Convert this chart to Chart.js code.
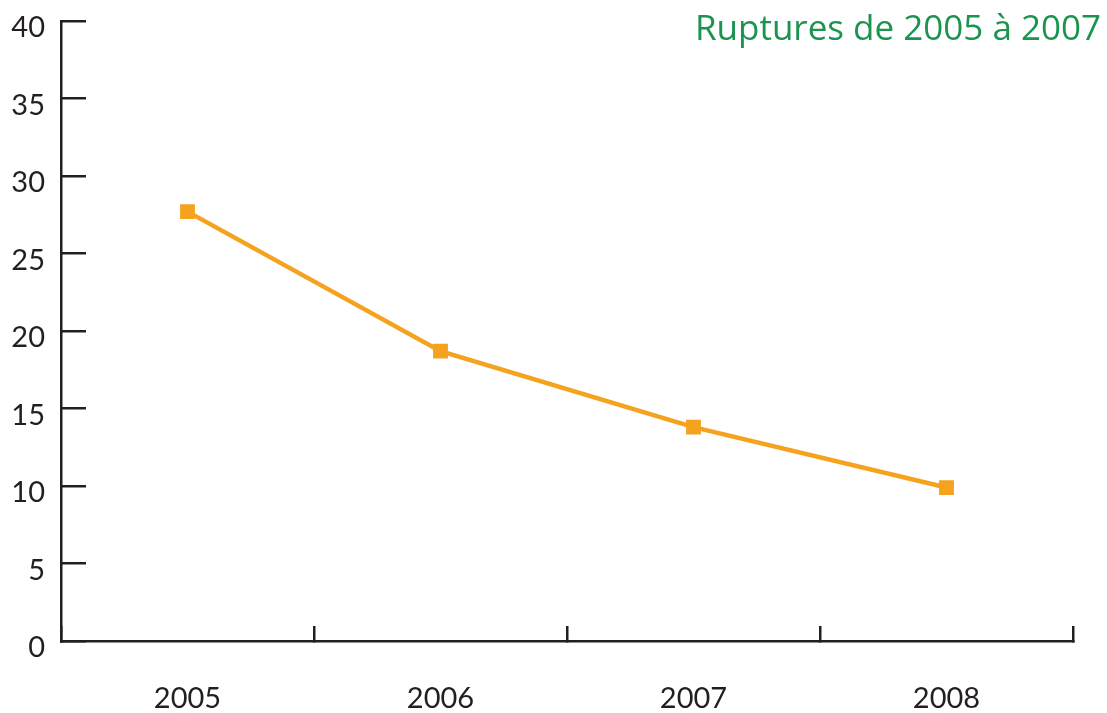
<!DOCTYPE html>
<html>
<head>
<meta charset="utf-8">
<script src="https://cdn.jsdelivr.net/npm/chart.js@4"></script>
<style>
  body { margin: 0; background: #fff; }
  #wrap { position: relative; width: 1107px; height: 713px; }
  #titre {
    position: absolute; right: 6px; top: 3px;
    font-family: "Open Sans", sans-serif; font-size: 35px;
    color: #1b9450; white-space: nowrap;
  }
</style>
</head>
<body>
<div id="wrap">
  <canvas id="chart"></canvas>
  <div id="titre">Ruptures de 2005 à 2007</div>
</div>
<script>
const years = ['2005', '2006', '2007', '2008'];
const ruptures = [27.7, 18.7, 13.8, 9.9];
const y_ticks = [0, 5, 10, 15, 20, 25, 30, 35, 40];

const axis_color = '#231f20';
const line_color = '#f5a21e';
const font = { family: 'Lato', size: 29 };

new Chart(document.getElementById('chart'), {
    type: 'line',
    data: {
        labels: years,
        datasets: [{
            data: ruptures,
            borderColor: line_color,
            backgroundColor: line_color,
            borderWidth: 4.5,
            pointStyle: 'rect',
            pointRadius: 10.5,
            pointBorderWidth: 0,
            tension: 0
        }]
    },
    options: {
        responsive: true,
        maintainAspectRatio: false,
        animation: false,
        layout: { padding: { top: 21, right: 34, left: 0, bottom: 0 } },
        plugins: {
            legend: { display: false },
            tooltip: { enabled: false }
        },
        scales: {
            x: {
                offset: true,
                afterFit: s => { s.height = 72; s.paddingLeft = 0; s.paddingRight = 0; },
                grid: {
                    offset: true,
                    drawOnChartArea: false,
                    color: axis_color,
                    lineWidth: 2.5,
                    tickLength: -15
                },
                border: { color: axis_color, width: 2.5 },
                ticks: { color: '#231f20', font: font, padding: 55, maxRotation: 0 }
            },
            y: {
                min: 0,
                max: 40,
                afterFit: s => { s.width = 61; s.paddingTop = 0; s.paddingBottom = 0; },
                afterBuildTicks: s => { s.ticks = y_ticks.map(v => ({ value: v })); },
                grid: {
                    drawOnChartArea: false,
                    color: axis_color,
                    lineWidth: 2.5,
                    tickLength: -25
                },
                border: { color: axis_color, width: 2.5 },
                ticks: { color: '#231f20', font: font, padding: 41, labelOffset: 7 }
            }
        }
    }
});
</script>
</body>
</html>
